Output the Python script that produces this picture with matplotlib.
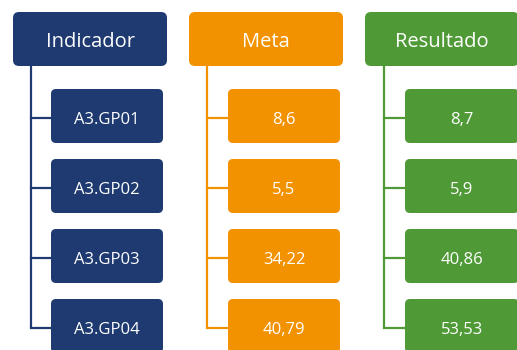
import matplotlib
matplotlib.use("Agg")
import matplotlib.pyplot as plt
from matplotlib.patches import FancyBboxPatch

# Data
headers = ["Indicador", "Meta", "Resultado"]
indicadores = ["A3.GP01", "A3.GP02", "A3.GP03", "A3.GP04"]
meta = [8.6, 5.5, 34.22, 40.79]
resultado = [8.7, 5.9, 40.86, 53.53]

def fmt(v):
    return str(v).replace(".", ",")

colors = ["#1e3a70", "#f39200", "#4f9a36"]
columns = [indicadores, [fmt(v) for v in meta], [fmt(v) for v in resultado]]

# Layout (pixels)
W, H = 517, 350
head_x = [13, 189, 365]
head_w = [154, 154, 154]
head_y, head_h = 12, 54
line_x = [31, 207, 384]
child_x = [51, 228, 405]
child_w = [112, 112, 114]
child_y0, child_h, child_step = 89, 54, 70

fig = plt.figure(figsize=(W / 100, H / 100), dpi=100)
ax = fig.add_axes([0, 0, 1, 1])
ax.set_xlim(0, W)
ax.set_ylim(H, 0)
ax.axis("off")

fam = ["Open Sans", "DejaVu Sans"]

for c in range(3):
    col = colors[c]
    # header box
    ax.add_patch(FancyBboxPatch((head_x[c], head_y), head_w[c], head_h,
                                boxstyle="round,pad=0,rounding_size=6",
                                fc=col, ec="none", zorder=3))
    ax.text(head_x[c] + head_w[c] / 2, head_y + head_h / 2 + 3, headers[c],
            color="white", fontsize=14.5, family=fam, ha="center", va="center", zorder=4)
    n = len(columns[c])
    last_center = child_y0 + (n - 1) * child_step + child_h / 2 + 2
    ax.plot([line_x[c], line_x[c]], [head_y + head_h, last_center],
            color=col, lw=1.6, zorder=2, solid_capstyle="butt")
    for i, label in enumerate(columns[c]):
        y = child_y0 + i * child_step
        cy = y + child_h / 2 + 2
        ax.plot([line_x[c], child_x[c]], [cy, cy], color=col, lw=1.6, zorder=2)
        ax.add_patch(FancyBboxPatch((child_x[c], y), child_w[c], child_h,
                                    boxstyle="round,pad=0,rounding_size=5",
                                    fc=col, ec="none", zorder=3))
        ax.text(child_x[c] + child_w[c] / 2, y + child_h / 2 + 3.5, label, color="white",
                fontsize=12, family=fam, ha="center", va="center", zorder=4)

fig.savefig("out.png", dpi=100)
